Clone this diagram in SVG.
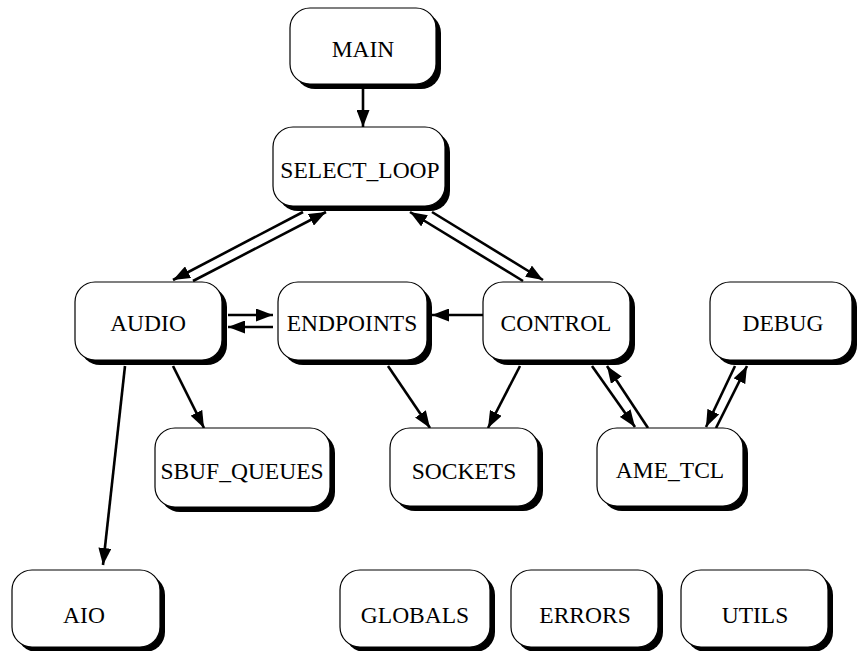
<svg xmlns="http://www.w3.org/2000/svg" width="858" height="651" viewBox="0 0 858 651">
<style>
.sh{fill:#000;stroke:none}
.bx{fill:#fff;stroke:#000;stroke-width:1.2}
text{font-family:'Liberation Serif','DejaVu Serif','Times New Roman',serif;font-size:23.5px;fill:#000;text-anchor:middle}
.e{stroke:#000;stroke-width:2.6;fill:none;marker-end:url(#ah)}
</style>
<defs>
<marker id="ah" markerUnits="userSpaceOnUse" markerWidth="18" markerHeight="13" refX="17" refY="6.5" orient="auto">
<path d="M0,0 L17,6.5 L0,13 z" fill="#000"/>
</marker>
</defs>
<rect width="858" height="651" fill="#fff"/>
<g id="edges">
<line class="e" x1="363" y1="89" x2="363" y2="127"/>
<line class="e" x1="303" y1="212" x2="173" y2="280"/>
<line class="e" x1="193" y1="281" x2="326" y2="212"/>
<line class="e" x1="432" y1="212" x2="543" y2="280"/>
<line class="e" x1="523" y1="281" x2="410" y2="212"/>
<line class="e" x1="228" y1="315" x2="273" y2="315"/>
<line class="e" x1="273" y1="327" x2="228" y2="327"/>
<line class="e" x1="483" y1="315" x2="432" y2="315"/>
<line class="e" x1="173" y1="366" x2="204" y2="428"/>
<line class="e" x1="125" y1="366" x2="103" y2="565"/>
<line class="e" x1="388" y1="366" x2="430" y2="428"/>
<line class="e" x1="520" y1="366" x2="488" y2="428"/>
<line class="e" x1="592" y1="366" x2="635" y2="427"/>
<line class="e" x1="648" y1="428" x2="607" y2="366"/>
<line class="e" x1="735" y1="366" x2="706" y2="427"/>
<line class="e" x1="716" y1="428" x2="747" y2="366"/>
</g>
<g id="MAIN"><rect class="sh" x="295" y="13" width="146" height="76" rx="20"/><rect class="bx" x="290" y="8" width="146" height="76" rx="20"/><text x="363" y="57">MAIN</text></g>
<g id="SELECT_LOOP"><rect class="sh" x="278" y="132" width="172" height="79" rx="20"/><rect class="bx" x="273" y="127" width="172" height="79" rx="20"/><text x="360" y="178">SELECT_LOOP</text></g>
<g id="AUDIO"><rect class="sh" x="80" y="287" width="147" height="78" rx="20"/><rect class="bx" x="75" y="282" width="147" height="78" rx="20"/><text x="148" y="331">AUDIO</text></g>
<g id="ENDPOINTS"><rect class="sh" x="283" y="287" width="149" height="78" rx="20"/><rect class="bx" x="278" y="282" width="149" height="78" rx="20"/><text x="352" y="331">ENDPOINTS</text></g>
<g id="CONTROL"><rect class="sh" x="488" y="287" width="147" height="78" rx="20"/><rect class="bx" x="483" y="282" width="147" height="78" rx="20"/><text x="556" y="331">CONTROL</text></g>
<g id="DEBUG"><rect class="sh" x="715" y="287" width="142" height="78" rx="20"/><rect class="bx" x="710" y="282" width="142" height="78" rx="20"/><text x="783" y="331">DEBUG</text></g>
<g id="SBUF_QUEUES"><rect class="sh" x="160" y="433" width="175" height="79" rx="20"/><rect class="bx" x="155" y="428" width="175" height="79" rx="20"/><text x="242" y="479">SBUF_QUEUES</text></g>
<g id="SOCKETS"><rect class="sh" x="395" y="433" width="148" height="78" rx="20"/><rect class="bx" x="390" y="428" width="148" height="78" rx="20"/><text x="464" y="479">SOCKETS</text></g>
<g id="AME_TCL"><rect class="sh" x="602" y="433" width="146" height="78" rx="20"/><rect class="bx" x="597" y="428" width="146" height="78" rx="20"/><text x="670" y="478">AME_TCL</text></g>
<g id="AIO"><rect class="sh" x="17" y="575" width="148" height="77" rx="20"/><rect class="bx" x="12" y="570" width="148" height="77" rx="20"/><text x="84" y="623">AIO</text></g>
<g id="GLOBALS"><rect class="sh" x="345" y="575" width="150" height="77" rx="20"/><rect class="bx" x="340" y="570" width="150" height="77" rx="20"/><text x="415" y="623">GLOBALS</text></g>
<g id="ERRORS"><rect class="sh" x="516" y="575" width="147" height="77" rx="20"/><rect class="bx" x="511" y="570" width="147" height="77" rx="20"/><text x="585" y="623">ERRORS</text></g>
<g id="UTILS"><rect class="sh" x="686" y="575" width="147" height="77" rx="20"/><rect class="bx" x="681" y="570" width="147" height="77" rx="20"/><text x="755" y="623">UTILS</text></g>
</svg>
